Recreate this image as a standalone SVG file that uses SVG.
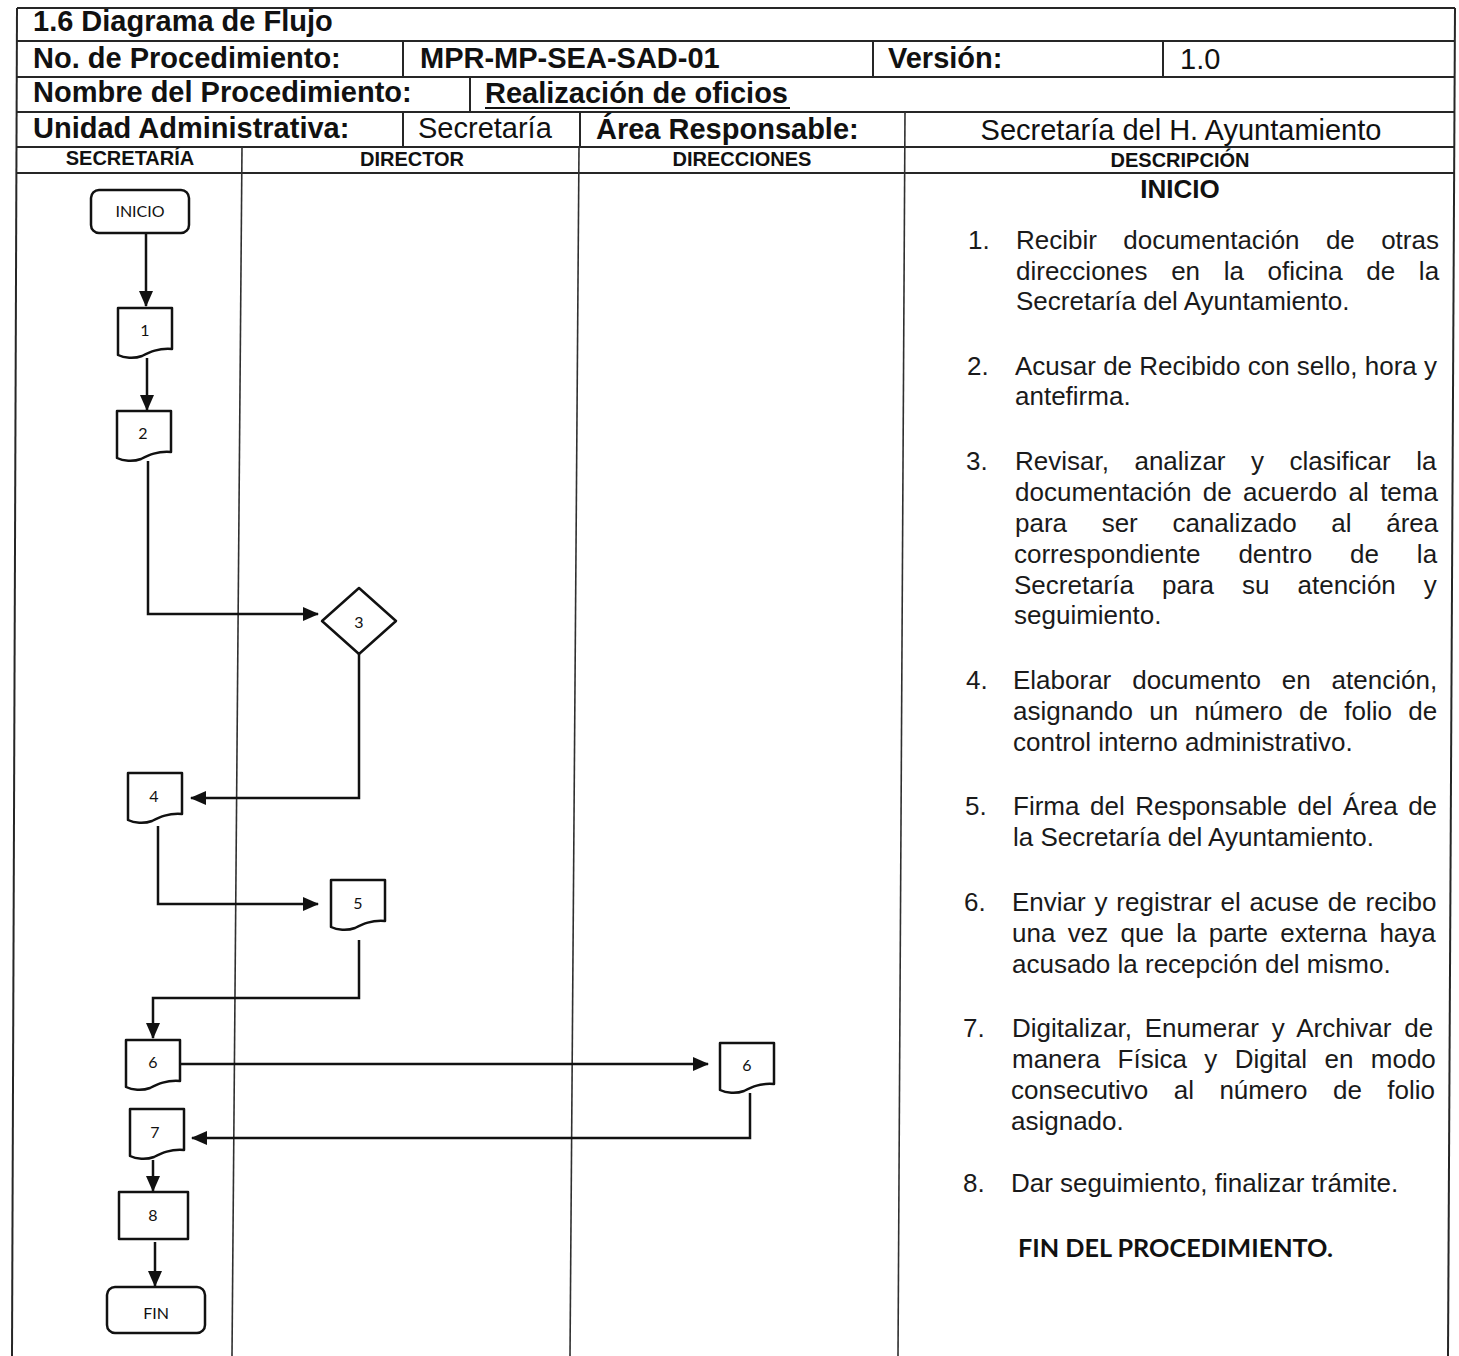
<svg xmlns="http://www.w3.org/2000/svg" width="1459" height="1356" viewBox="0 0 1459 1356">
  <style>
    .grid { stroke:#262626; stroke-width:2; fill:none; }
    .lane { stroke:#303030; stroke-width:1.6; fill:none; }
    .hb { font-family:"Liberation Sans", Arial, sans-serif; font-weight:bold; font-size:29px; fill:#111; }
    .hr { font-family:"Liberation Sans", Arial, sans-serif; font-size:29px; fill:#111; }
    .lh { font-family:"Liberation Sans", Arial, sans-serif; font-weight:bold; font-size:20px; fill:#111; text-anchor:middle; }
    .d { font-family:"Liberation Sans", Arial, sans-serif; font-size:26px; fill:#1a1a1a; }
    .db { font-family:"Liberation Sans", Arial, sans-serif; font-size:26px; font-weight:bold; fill:#111; text-anchor:middle; }
    .fin { font-family:Lato, "Open Sans", sans-serif; font-size:24px; font-weight:bold; fill:#111; }
    .shape { fill:#fff; stroke:#111; stroke-width:2.5; stroke-linejoin:round; }
    .lbl { font-family:Lato, "Open Sans", sans-serif; font-size:16px; fill:#111; text-anchor:middle; }
    .conn { stroke:#111; stroke-width:2.5; fill:none; }
  </style>
  <defs>
    <marker id="ah" markerUnits="userSpaceOnUse" markerWidth="16" markerHeight="14" refX="15" refY="7" orient="auto">
      <path d="M0,0 L16,7 L0,14 Z" fill="#111"/>
    </marker>
    <path id="doc" d="M0,0 H54 V41 C40,40 32,44 24,48 C16,51 6,50 0,47 Z"/>
  </defs>

  <rect width="1459" height="1356" fill="#fff"/>

  <!-- header table -->
  <g id="table">
    <line class="grid" x1="17" y1="8" x2="1455" y2="8"/>
    <line class="grid" x1="17" y1="41" x2="1455" y2="41"/>
    <line class="grid" x1="17" y1="77" x2="1455" y2="77"/>
    <line class="grid" x1="17" y1="112" x2="1455" y2="112"/>
    <line class="grid" x1="17" y1="147" x2="1455" y2="147"/>
    <line class="grid" x1="17" y1="173" x2="1455" y2="173"/>
    <!-- row dividers -->
    <line class="grid" x1="403" y1="41" x2="403" y2="77"/>
    <line class="grid" x1="873" y1="41" x2="873" y2="77"/>
    <line class="grid" x1="1163" y1="41" x2="1163" y2="77"/>
    <line class="grid" x1="470" y1="77" x2="470" y2="112"/>
    <line class="grid" x1="403" y1="112" x2="403" y2="147"/>
    <line class="grid" x1="580" y1="112" x2="580" y2="147"/>
    <!-- outer borders and lanes -->
    <line class="grid" x1="17" y1="8" x2="12" y2="1356"/>
    <line class="grid" x1="1455" y1="8" x2="1448" y2="1356"/>
    <line class="lane" x1="242" y1="147" x2="232" y2="1356"/>
    <line class="lane" x1="579" y1="147" x2="570" y2="1356"/>
    <line class="lane" x1="905" y1="112" x2="898" y2="1356"/>

    <text class="hb" x="33" y="31">1.6 Diagrama de Flujo</text>
    <text class="hb" x="33" y="68">No. de Procedimiento:</text>
    <text class="hb" x="420" y="68">MPR-MP-SEA-SAD-01</text>
    <text class="hb" x="888" y="68">Versión:</text>
    <text class="hr" x="1180" y="69">1.0</text>
    <text class="hb" x="33" y="102">Nombre del Procedimiento:</text>
    <text class="hb" x="485" y="103">Realización de oficios</text>
    <line x1="485" y1="108" x2="790" y2="108" stroke="#111" stroke-width="2"/>
    <text class="hb" x="33" y="138">Unidad Administrativa:</text>
    <text class="hr" x="418" y="138">Secretaría</text>
    <text class="hb" x="596" y="139">Área Responsable:</text>
    <text class="hr" x="1181" y="140" text-anchor="middle">Secretaría del H. Ayuntamiento</text>

    <text class="lh" x="130" y="165">SECRETARÍA</text>
    <text class="lh" x="412" y="166">DIRECTOR</text>
    <text class="lh" x="742" y="166">DIRECCIONES</text>
    <text class="lh" x="1180" y="167">DESCRIPCIÓN</text>
  </g>

  <!-- connectors -->
  <g id="connectors">
    <path class="conn" d="M146,233 V306" marker-end="url(#ah)"/>
    <path class="conn" d="M147,358 V410" marker-end="url(#ah)"/>
    <path class="conn" d="M148,461 V614 H318" marker-end="url(#ah)"/>
    <path class="conn" d="M359,654 V798 H191" marker-end="url(#ah)"/>
    <path class="conn" d="M158,826 V904 H318" marker-end="url(#ah)"/>
    <path class="conn" d="M359,940 V998 H153 V1038" marker-end="url(#ah)"/>
    <path class="conn" d="M180,1064 H708" marker-end="url(#ah)"/>
    <path class="conn" d="M750,1093 V1138 H192" marker-end="url(#ah)"/>
    <path class="conn" d="M153,1160 V1191" marker-end="url(#ah)"/>
    <path class="conn" d="M155,1242 V1286" marker-end="url(#ah)"/>
  </g>

  <!-- flow nodes -->
  <g id="n-inicio">
    <rect class="shape" x="91" y="190" width="98" height="43" rx="8"/>
    <text class="lbl" x="140" y="217" font-size="14">INICIO</text>
  </g>
  <g id="n1">
    <use href="#doc" class="shape" x="118" y="308"/>
    <text class="lbl" x="145" y="336">1</text>
  </g>
  <g id="n2">
    <use href="#doc" class="shape" x="117" y="411"/>
    <text class="lbl" x="143" y="439">2</text>
  </g>
  <g id="n3">
    <polygon class="shape" points="359,588 396,621 359,654 322,621"/>
    <text class="lbl" x="359" y="628" font-size="18">3</text>
  </g>
  <g id="n4">
    <use href="#doc" class="shape" x="128" y="773"/>
    <text class="lbl" x="154" y="802">4</text>
  </g>
  <g id="n5">
    <use href="#doc" class="shape" x="331" y="880"/>
    <text class="lbl" x="358" y="909">5</text>
  </g>
  <g id="n6">
    <use href="#doc" class="shape" x="126" y="1040"/>
    <text class="lbl" x="153" y="1068">6</text>
  </g>
  <g id="n6-direcciones">
    <use href="#doc" class="shape" x="720" y="1043"/>
    <text class="lbl" x="747" y="1071">6</text>
  </g>
  <g id="n7">
    <use href="#doc" class="shape" x="130" y="1109"/>
    <text class="lbl" x="155" y="1138">7</text>
  </g>
  <g id="n8">
    <rect class="shape" x="119" y="1192" width="69" height="47"/>
    <text class="lbl" x="153" y="1221">8</text>
  </g>
  <g id="n-fin">
    <rect class="shape" x="107" y="1287" width="98" height="46" rx="8"/>
    <text class="lbl" x="156" y="1319">FIN</text>
  </g>

  <!-- description column -->
  <g id="descripcion">
    <text class="db" x="1180" y="198">INICIO</text>

    <text class="d" x="968" y="249">1.</text>
    <text class="d" x="1016" y="249" style="word-spacing:19.1px">Recibir documentación de otras</text>
    <text class="d" x="1016" y="280" style="word-spacing:16.4px">direcciones en la oficina de la</text>
    <text class="d" x="1016" y="310">Secretaría del Ayuntamiento.</text>

    <text class="d" x="967" y="375">2.</text>
    <text class="d" x="1015" y="375">Acusar de Recibido con sello, hora y</text>
    <text class="d" x="1015" y="405">antefirma.</text>

    <text class="d" x="966" y="470">3.</text>
    <text class="d" x="1015" y="470" style="word-spacing:18.3px">Revisar, analizar y clasificar la</text>
    <text class="d" x="1015" y="501" style="word-spacing:4.2px">documentación de acuerdo al tema</text>
    <text class="d" x="1015" y="532" style="word-spacing:27.4px">para ser canalizado al área</text>
    <text class="d" x="1014" y="563" style="word-spacing:30.7px">correspondiente dentro de la</text>
    <text class="d" x="1014" y="594" style="word-spacing:20.8px">Secretaría para su atención y</text>
    <text class="d" x="1014" y="624">seguimiento.</text>

    <text class="d" x="966" y="689">4.</text>
    <text class="d" x="1013" y="689" style="word-spacing:13.7px">Elaborar documento en atención,</text>
    <text class="d" x="1013" y="720" style="word-spacing:9.1px">asignando un número de folio de</text>
    <text class="d" x="1013" y="751">control interno administrativo.</text>

    <text class="d" x="965" y="815">5.</text>
    <text class="d" x="1013" y="815" style="word-spacing:3.3px">Firma del Responsable del Área de</text>
    <text class="d" x="1013" y="846">la Secretaría del Ayuntamiento.</text>

    <text class="d" x="964" y="911">6.</text>
    <text class="d" x="1012" y="911" style="word-spacing:1.6px">Enviar y registrar el acuse de recibo</text>
    <text class="d" x="1012" y="942" style="word-spacing:5.1px">una vez que la parte externa haya</text>
    <text class="d" x="1012" y="973">acusado la recepción del mismo.</text>

    <text class="d" x="963" y="1037">7.</text>
    <text class="d" x="1012" y="1037" style="word-spacing:5.6px">Digitalizar, Enumerar y Archivar de</text>
    <text class="d" x="1012" y="1068" style="word-spacing:10.2px">manera Física y Digital en modo</text>
    <text class="d" x="1011" y="1099" style="word-spacing:18.2px">consecutivo al número de folio</text>
    <text class="d" x="1011" y="1130">asignado.</text>

    <text class="d" x="963" y="1192">8.</text>
    <text class="d" x="1011" y="1192">Dar seguimiento, finalizar trámite.</text>

    <text class="fin" x="1018" y="1257" textLength="315" lengthAdjust="spacingAndGlyphs">FIN DEL PROCEDIMIENTO.</text>
  </g>
</svg>
